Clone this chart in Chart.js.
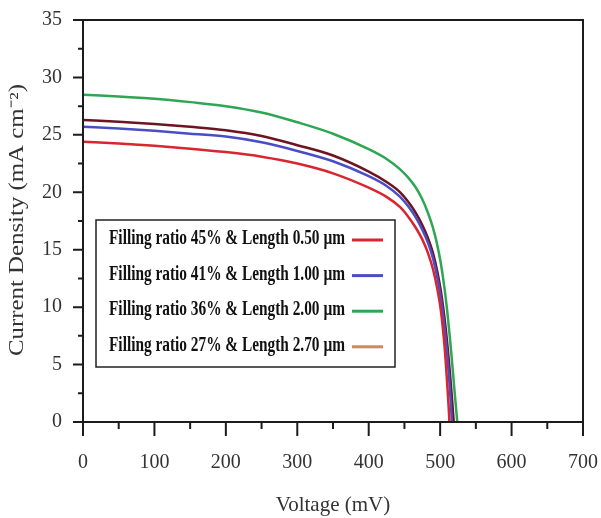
<!DOCTYPE html>
<html>
<head>
<meta charset="utf-8">
<script src="https://cdn.jsdelivr.net/npm/chart.js@4.4.0/dist/chart.umd.min.js"></script>
<style>
html, body { margin: 0; padding: 0; background: #fff; }
</style>
</head>
<body>
<canvas id="jv" width="601" height="518"></canvas>
<script>
// J-V curves, voltage in mV, current density in mA cm^-2
const seriesLabels = [
    'Filling ratio 45% & Length 0.50 µm',
    'Filling ratio 41% & Length 1.00 µm',
    'Filling ratio 36% & Length 2.00 µm',
    'Filling ratio 27% & Length 2.70 µm'
];
const v45 = [0, 50, 100, 150, 200, 250, 300, 350, 400, 425, 444, 455, 465, 475, 483, 490, 496, 501, 505, 508, 510, 512, 513];
const j45 = [24.4, 24.25, 24.05, 23.8, 23.5, 23.1, 22.5, 21.65, 20.4, 19.6, 18.7, 17.9, 17.0, 15.9, 14.7, 13.3, 11.6, 9.7, 7.4, 5.1, 3.2, 1.2, 0];
const v41 = [0, 50, 100, 150, 200, 250, 300, 350, 400, 425, 444, 455, 465, 475, 483, 490, 496, 501, 505, 509, 512, 514.5, 516.5];
const j41 = [25.7, 25.55, 25.35, 25.1, 24.85, 24.35, 23.6, 22.7, 21.4, 20.55, 19.6, 18.8, 17.9, 16.75, 15.6, 14.25, 12.6, 10.8, 8.9, 6.5, 4.3, 2.1, 0];
const v36 = [0, 50, 100, 150, 200, 250, 300, 350, 400, 425, 444, 455, 465, 475, 483, 490, 496, 501, 506, 510, 514, 517, 520, 524];
const j36 = [28.5, 28.35, 28.15, 27.85, 27.5, 26.95, 26.1, 25.1, 23.75, 22.9, 22.0, 21.3, 20.5, 19.4, 18.2, 16.9, 15.4, 13.8, 11.7, 9.6, 7.1, 5.0, 2.8, 0];
const v27 = [0, 50, 100, 150, 200, 250, 300, 350, 400, 425, 444, 455, 465, 475, 483, 490, 496, 501, 506, 510, 513.5, 516.5, 519];
const j27 = [26.3, 26.15, 25.95, 25.7, 25.4, 24.9, 24.1, 23.2, 21.8, 20.9, 20.0, 19.2, 18.3, 17.15, 16.0, 14.7, 13.1, 11.4, 9.1, 6.8, 4.4, 2.1, 0];

const lineColors = ['#d8252f', '#4a4ec6', '#2fa653', '#6c1420'];
const legendColors = ['#d8252f', '#4a4ec6', '#2fa653', '#c98a5e'];

const xMin = 0, xMax = 700, xMajor = 100, xMinor = 50;
const yMin = 0, yMax = 35, yMajor = 5, yMinor = 2.5;

function pts(vs, js) {
    return vs.map((v, i) => ({ x: v, y: js[i] }));
}

const serif = 'Liberation Serif, Times New Roman, serif';

// drop the extra room chart.js keeps for half labels, so layout.padding sets the plot box
function noPad(s) {
    s.paddingTop = 0; s.paddingBottom = 0; s.paddingLeft = 0; s.paddingRight = 0;
}

// box around the plot plus major / minor tick marks
const frame = {
    id: 'frame',
    afterDraw(chart) {
        const { ctx, chartArea: a, scales: { x, y } } = chart;
        ctx.save();
        ctx.strokeStyle = '#1c1c1c';
        ctx.lineWidth = 2;
        ctx.strokeRect(a.left, a.top, a.right - a.left, a.bottom - a.top);
        ctx.beginPath();
        for (let v = yMin; v <= yMax; v += yMinor) {
            const py = y.getPixelForValue(v);
            const len = v % yMajor === 0 ? 10 : 5;
            ctx.moveTo(a.left - len, py);
            ctx.lineTo(a.left, py);
        }
        for (let v = xMin; v <= xMax; v += xMinor) {
            const px = x.getPixelForValue(v);
            const len = v % xMajor === 0 ? 14 : 7;
            ctx.moveTo(px, a.bottom);
            ctx.lineTo(px, a.bottom + len);
        }
        ctx.stroke();

        // rotated y title, stretched a bit like the original
        ctx.translate(18, 220);
        ctx.rotate(-Math.PI / 2);
        ctx.font = '20px ' + serif;
        ctx.fillStyle = '#333';
        ctx.textAlign = 'center';
        ctx.textBaseline = 'middle';
        const t = 'Current Density (mA cm⁻²)';
        const w = ctx.measureText(t).width;
        ctx.scale(272 / w, 1);
        ctx.fillText(t, 0, 0);
        ctx.restore();
    }
};

// boxed legend with the sample line after the text
const legendBox = {
    id: 'legendBox',
    afterDraw(chart) {
        const ctx = chart.ctx;
        const left = 96, top = 220, right = 395, bottom = 367;
        ctx.save();
        ctx.fillStyle = '#fff';
        ctx.fillRect(left, top, right - left, bottom - top);
        ctx.strokeStyle = '#222';
        ctx.lineWidth = 1.5;
        ctx.strokeRect(left, top, right - left, bottom - top);
        ctx.font = 'bold 20px ' + serif;
        ctx.textBaseline = 'middle';
        chart.data.datasets.forEach((ds, i) => {
            const cy = 239 + i * 35.6;
            const w = ctx.measureText(ds.label).width;
            ctx.save();
            ctx.translate(109, cy);
            ctx.scale(236 / w, 1);
            ctx.fillStyle = '#111';
            ctx.fillText(ds.label, 0, 0);
            ctx.restore();
            ctx.strokeStyle = legendColors[i];
            ctx.lineWidth = 3;
            ctx.beginPath();
            ctx.moveTo(352, cy + 1);
            ctx.lineTo(383, cy + 1);
            ctx.stroke();
        });
        ctx.restore();
    }
};

const series = [pts(v45, j45), pts(v41, j41), pts(v36, j36), pts(v27, j27)];

new Chart(document.getElementById('jv'), {
    type: 'line',
    data: {
        datasets: series.map((d, i) => ({
            label: seriesLabels[i],
            data: d,
            borderColor: lineColors[i],
            backgroundColor: lineColors[i],
            borderWidth: 2.5,
            pointRadius: 0,
            cubicInterpolationMode: 'monotone',
            fill: false
        }))
    },
    options: {
        responsive: false,
        animation: false,
        devicePixelRatio: 1,
        layout: { padding: { top: 20, right: 18, left: 0, bottom: 0 } },
        plugins: { legend: { display: false }, tooltip: { enabled: false } },
        scales: {
            x: {
                type: 'linear', min: xMin, max: xMax,
                afterFit: s => { s.height = 96; noPad(s); },
                grid: { display: false, drawTicks: false },
                border: { display: false },
                ticks: { stepSize: xMajor, padding: 29, color: '#333', font: { family: serif, size: 20 }, maxRotation: 0 },
                title: { display: true, text: 'Voltage (mV)', color: '#333', font: { family: serif, size: 21 }, padding: { top: 0, bottom: 0 } }
            },
            y: {
                min: yMin, max: yMax,
                afterFit: s => { s.width = 83; noPad(s); },
                grid: { display: false, drawTicks: false },
                border: { display: false },
                ticks: { stepSize: yMajor, padding: 21, color: '#333', font: { family: serif, size: 20 } }
            }
        }
    },
    plugins: [frame, legendBox]
});
</script>
</body>
</html>
